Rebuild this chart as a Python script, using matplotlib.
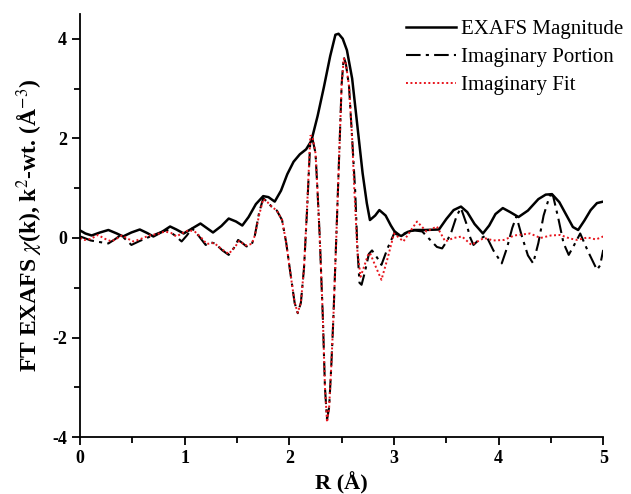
import numpy as np
import matplotlib
matplotlib.use("Agg")
from matplotlib import pyplot as plt

plt.rcParams['font.family'] = ['Liberation Serif', 'DejaVu Serif']
plt.rcParams['mathtext.fontset'] = 'stix'
plt.rcParams['axes.unicode_minus'] = False

# EXAFS magnitude
r_mag = [0.00, 0.05, 0.11, 0.19, 0.27, 0.35, 0.41, 0.49, 0.57, 0.64, 0.70, 0.78, 0.86,
         0.92, 0.99, 1.07, 1.15, 1.21, 1.27, 1.35, 1.42, 1.49, 1.55, 1.61, 1.68, 1.75,
         1.80, 1.86, 1.92, 1.98, 2.04, 2.10, 2.16, 2.21, 2.27, 2.33, 2.39, 2.44, 2.47,
         2.51, 2.55, 2.60, 2.65, 2.70, 2.74, 2.77, 2.82, 2.86, 2.92, 2.97, 3.02, 3.07,
         3.13, 3.19, 3.30, 3.43, 3.50, 3.57, 3.64, 3.70, 3.77, 3.85, 3.91, 3.97, 4.04,
         4.11, 4.19, 4.28, 4.38, 4.45, 4.51, 4.58, 4.65, 4.71, 4.76, 4.82, 4.88, 4.94, 5.00]
v_mag = [0.15, 0.09, 0.05, 0.11, 0.16, 0.09, 0.03, 0.11, 0.17, 0.10, 0.03, 0.12, 0.23,
         0.17, 0.09, 0.19, 0.29, 0.20, 0.11, 0.24, 0.39, 0.33, 0.25, 0.42, 0.68, 0.84,
         0.82, 0.73, 0.95, 1.28, 1.53, 1.68, 1.78, 1.95, 2.45, 3.03, 3.65, 4.08, 4.10,
         4.00, 3.77, 3.20, 2.25, 1.30, 0.70, 0.36, 0.45, 0.56, 0.45, 0.25, 0.08, 0.04,
         0.12, 0.16, 0.16, 0.17, 0.38, 0.56, 0.63, 0.52, 0.28, 0.09, 0.25, 0.48, 0.60,
         0.52, 0.42, 0.55, 0.78, 0.87, 0.88, 0.72, 0.45, 0.22, 0.16, 0.35, 0.56, 0.70, 0.73]

# imaginary portion
r_im = [0.00, 0.04, 0.10, 0.18, 0.27, 0.33, 0.39, 0.44, 0.49, 0.57, 0.67, 0.75, 0.83,
        0.90, 0.97, 1.02, 1.07, 1.13, 1.20, 1.25, 1.29, 1.36, 1.42, 1.47, 1.51, 1.55,
        1.59, 1.64, 1.67, 1.71, 1.75, 1.79, 1.83, 1.88, 1.93, 1.97, 2.01, 2.05, 2.08,
        2.11, 2.14, 2.17, 2.20, 2.22, 2.25, 2.27, 2.29, 2.32, 2.34, 2.36, 2.38, 2.40,
        2.42, 2.45, 2.48, 2.50, 2.52, 2.54, 2.57, 2.60, 2.63, 2.65, 2.67, 2.69, 2.72,
        2.76, 2.79, 2.84, 2.88, 2.94, 3.01, 3.06, 3.14, 3.20, 3.27, 3.36, 3.41, 3.46,
        3.51, 3.55, 3.60, 3.64, 3.69, 3.73, 3.76, 3.82, 3.88, 3.95, 4.03, 4.08, 4.13,
        4.17, 4.22, 4.28, 4.33, 4.38, 4.43, 4.49, 4.52, 4.57, 4.62, 4.67, 4.72, 4.78,
        4.85, 4.94, 4.97, 5.00]
v_im = [0.03, 0.00, -0.05, -0.08, -0.11, -0.03, 0.06, -0.04, -0.14, -0.06, 0.03, 0.10, 0.16,
        0.06, -0.07, 0.05, 0.19, 0.05, -0.14, -0.09, -0.11, -0.25, -0.34, -0.20, -0.04, -0.10,
        -0.17, -0.13, 0.05, 0.50, 0.80, 0.72, 0.63, 0.55, 0.36, -0.10, -0.71, -1.30, -1.51,
        -1.30, -0.60, 0.60, 1.95, 2.00, 1.70, 0.90, 0.03, -1.60, -3.00, -3.65, -3.40, -2.60,
        -1.64, 0.10, 1.90, 3.10, 3.63, 3.50, 3.05, 2.00, 0.90, -0.20, -0.90, -0.94, -0.70,
        -0.32, -0.25, -0.40, -0.54, -0.20, 0.13, 0.05, 0.13, 0.15, 0.13, -0.07, -0.18, -0.21,
        -0.05, 0.13, 0.45, 0.60, 0.30, 0.00, -0.14, -0.02, 0.05, -0.25, -0.51, -0.20, 0.20,
        0.43, 0.05, -0.35, -0.51, -0.10, 0.45, 0.86, 0.85, 0.40, -0.10, -0.34, -0.15, 0.09,
        -0.25, -0.64, -0.55, -0.24]

# imaginary fit
r_fit = [0.00, 0.04, 0.10, 0.17, 0.24, 0.30, 0.36, 0.40, 0.46, 0.51, 0.58, 0.66, 0.74,
         0.81, 0.87, 0.92, 0.98, 1.04, 1.10, 1.16, 1.21, 1.28, 1.35, 1.42, 1.48, 1.52,
         1.58, 1.64, 1.67, 1.71, 1.75, 1.79, 1.83, 1.88, 1.93, 1.97, 2.01, 2.05, 2.08,
         2.11, 2.14, 2.17, 2.20, 2.22, 2.25, 2.27, 2.29, 2.32, 2.34, 2.36, 2.38, 2.40,
         2.42, 2.45, 2.48, 2.50, 2.52, 2.54, 2.57, 2.60, 2.62, 2.65, 2.68, 2.71, 2.75,
         2.77, 2.82, 2.88, 2.94, 3.00, 3.09, 3.16, 3.22, 3.31, 3.41, 3.49, 3.57, 3.65,
         3.74, 3.86, 3.95, 4.05, 4.15, 4.30, 4.40, 4.50, 4.59, 4.68, 4.75, 4.85, 4.93, 5.00]
v_fit = [0.00, -0.04, -0.02, 0.06, -0.02, -0.07, 0.00, 0.05, -0.02, -0.07, -0.02, 0.05, 0.08,
         0.13, 0.10, 0.03, 0.10, 0.16, 0.12, 0.00, -0.12, -0.10, -0.22, -0.32, -0.18, -0.06,
         -0.15, -0.12, 0.05, 0.45, 0.78, 0.72, 0.63, 0.55, 0.36, -0.10, -0.71, -1.30, -1.50,
         -1.30, -0.60, 0.65, 2.05, 2.05, 1.70, 0.90, 0.03, -1.60, -3.00, -3.70, -3.40, -2.60,
         -1.64, 0.10, 1.90, 3.10, 3.60, 3.50, 3.05, 2.00, 1.00, -0.25, -0.78, -0.60, -0.35,
         -0.30, -0.55, -0.84, -0.40, 0.09, -0.07, 0.15, 0.33, 0.13, 0.23, -0.07, 0.00, 0.03,
         -0.14, 0.00, -0.05, -0.04, 0.05, 0.09, 0.00, 0.05, 0.06, -0.01, -0.04, 0.01, -0.03, 0.03]

fig = plt.figure(figsize=(6.31, 4.94), dpi=100)
ax = fig.add_axes([0.127, 0.115, 0.829, 0.857])

ax.plot(r_mag, v_mag, color='black', lw=1.8, label='EXAFS Magnitude')
ax.plot(r_im, v_im, color='black', lw=1.5, linestyle=(0, (7, 2.5, 1.5, 2.5)), label='Imaginary Portion')
ax.plot(r_fit, v_fit, color='#e8141c', lw=1.4, linestyle=(0, (1, 1.3)), label='Imaginary Fit')

ax.set_xlim(0, 5)
ax.set_ylim(-4, 4.5)
ax.set_xticks([0, 1, 2, 3, 4, 5])
ax.set_xticks(np.arange(0.5, 5, 1), minor=True)
ax.set_yticks([-4, -2, 0, 2, 4])
ax.set_yticks([-3, -1, 1, 3], minor=True)
ax.spines['top'].set_visible(False)
ax.spines['right'].set_visible(False)
ax.spines['left'].set_linewidth(1.3)
ax.spines['bottom'].set_linewidth(1.3)
ax.tick_params(which='major', direction='out', length=6, width=1.3, labelsize=13)
ax.tick_params(which='minor', direction='out', length=4, width=1.3)
for lab in ax.get_xticklabels() + ax.get_yticklabels():
    lab.set_fontweight('bold')

ax.set_xlabel('R (Å)', fontsize=16, fontweight='bold', labelpad=3)
ax.set_ylabel(r'FT EXAFS $\chi$(k), k$^2$-wt. (Å$^{-3}$)', fontsize=17, fontweight='bold', labelpad=5)

ax.legend(loc='upper right', bbox_to_anchor=(1.075, 1.03), frameon=False, fontsize=15,
          handlelength=2.4, handletextpad=0.25, labelspacing=0.4)

fig.savefig('out.png', dpi=100)
